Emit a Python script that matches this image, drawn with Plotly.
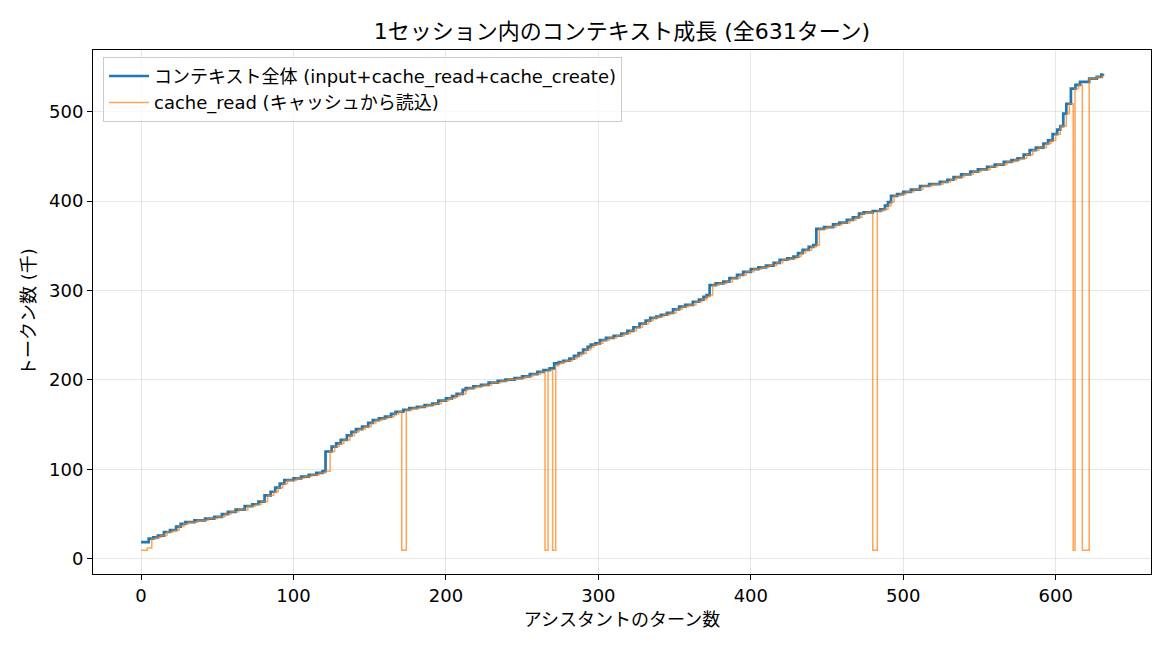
import plotly.graph_objects as go

# ---- data (thousands of tokens) ----
total_turns = [0, 5, 8, 11, 15, 19, 23, 26, 29, 35, 42, 48, 53, 57, 62, 68, 73, 77, 81, 85,
               88, 91, 94, 100, 105, 110, 115, 119, 121, 125, 128, 131, 135, 138, 141, 145, 149, 152, 156, 160,
               164, 167, 172, 176, 181, 186, 191, 195, 200, 204, 207, 211, 213, 218, 223, 228, 234, 239, 245, 250,
               255, 260, 264, 268, 271, 274, 277, 281, 284, 287, 290, 293, 295, 298, 301, 305, 310, 315, 319, 323,
               327, 331, 334, 338, 341, 345, 349, 353, 357, 362, 366, 369, 371, 373, 377, 382, 386, 391, 395, 400,
               405, 410, 415, 419, 424, 428, 431, 434, 438, 441, 443, 448, 454, 458, 463, 467, 471, 474, 480, 485,
               488, 490, 492, 496, 500, 505, 511, 517, 524, 529, 533, 538, 544, 549, 555, 560, 566, 571, 575, 579,
               583, 587, 592, 595, 598, 601, 603, 605, 607, 610, 613, 616, 622, 627, 630, 631]
total_k = [18.7, 22.5, 24, 26, 30, 32, 36, 39, 41, 43, 45, 47, 50, 52.5, 55, 59, 61, 64, 71, 75,
           79.5, 84, 88, 90, 92, 94, 96, 98, 120, 125.5, 129, 133, 138, 142, 145, 148, 152, 155, 157, 159,
           162, 164.5, 166.5, 168.5, 170, 172, 173.5, 177, 179.5, 182, 184.5, 189, 191, 193, 194.5, 197, 199, 200.5, 202, 204,
           206.5, 209, 211, 213, 218.5, 220, 221.5, 224, 227, 230, 234, 237, 239.5, 241, 244.5, 247, 249.5, 252, 255, 259,
           263, 266.5, 269.5, 271, 273, 275, 279, 282, 284, 287.5, 290, 293, 295, 306, 308, 310, 314, 317.5, 321, 324,
           326, 328, 331, 334.5, 336, 338, 342, 345.5, 349, 351, 369, 371, 374, 376, 379, 382, 386, 387.5, 389, 391,
           395, 399, 406, 408, 410.5, 413, 417, 419, 421.5, 424, 427, 430, 433, 435.5, 438.5, 441, 444, 446, 448, 452,
           457, 460, 464.5, 468, 475, 480, 484, 498, 509, 526, 530, 533.5, 537, 539, 541.5, 542.5]

cache_turns = [0, 4, 7, 10, 13, 17, 21, 25, 28, 31, 37, 44, 50, 55, 59, 64, 70, 75, 79, 83,
               87, 90, 93, 96, 102, 107, 112, 117, 121, 124, 127, 130, 133, 137, 140, 143, 147, 151, 154, 158,
               162, 166, 169, 171, 174, 178, 183, 188, 193, 197, 202, 206, 209, 213, 215, 220, 225, 230, 236, 241,
               247, 252, 257, 262, 265, 267, 270, 272, 274, 276, 279, 283, 286, 289, 292, 295, 297, 300, 303, 307,
               312, 317, 321, 325, 329, 333, 336, 340, 343, 347, 351, 355, 359, 364, 368, 371, 373, 375, 379, 384,
               388, 393, 397, 402, 407, 412, 417, 421, 426, 430, 433, 436, 440, 443, 445, 450, 456, 460, 465, 469,
               473, 476, 480, 483, 487, 490, 492, 494, 498, 502, 507, 513, 519, 526, 531, 535, 540, 546, 551, 557,
               562, 568, 573, 577, 581, 585, 589, 594, 597, 600, 603, 607, 609, 611.5, 612.7, 615, 617.5, 622, 627, 631]
cache_k = [9.6, 12, 22.5, 24, 26, 30, 32, 36, 39, 41, 43, 45, 47, 50, 52.5, 55, 59, 61, 64, 71,
           75, 79.5, 84, 88, 90, 92, 94, 96, 98, 120, 125.5, 129, 133, 138, 142, 145, 148, 152, 155, 157,
           159, 162, 164.5, 9.6, 166.5, 168.5, 170, 172, 173.5, 177, 179.5, 182, 184.5, 189, 191, 193, 194.5, 197, 199, 200.5,
           202, 204, 206.5, 209, 9.6, 211, 9.6, 216, 218.5, 220, 221.5, 224, 227, 230, 234, 237, 239.5, 241, 244.5, 247,
           249.5, 252, 255, 259, 263, 266.5, 269.5, 271, 273, 275, 279, 282, 284, 287.5, 290, 293, 295, 306, 308, 310,
           314, 317.5, 321, 324, 326, 328, 331, 334.5, 336, 338, 342, 345.5, 349, 351, 369, 371, 374, 376, 379, 382,
           386, 387.5, 9.6, 389, 391, 395, 399, 406, 408, 410.5, 413, 417, 419, 421.5, 424, 427, 430, 433, 435.5, 438.5,
           441, 444, 446, 448, 452, 457, 460, 464.5, 468, 475, 484, 498, 509, 9.6, 526, 530, 9.6, 537, 539, 541.5]

x_ticks = [0, 100, 200, 300, 400, 500, 600]
y_ticks = [0, 100, 200, 300, 400, 500]

FONT = "DejaVu Sans, Noto Sans CJK JP, sans-serif"
BASE = 18

fig = go.Figure()
fig.add_trace(go.Scatter(
    x=total_turns, y=total_k, mode="lines", line_shape="hv",
    name="コンテキスト全体 (input+cache_read+cache_create)",
    line=dict(color="#1f77b4", width=2.7)))
fig.add_trace(go.Scatter(
    x=cache_turns, y=cache_k, mode="lines", line_shape="hv",
    name="cache_read (キャッシュから読込)", opacity=0.7,
    line=dict(color="#ff7f0e", width=1.5)))

axis_common = dict(
    showline=True, linecolor="black", linewidth=1.1, mirror=True,
    ticks="outside", ticklen=5, tickwidth=1.1, tickcolor="black",
    showgrid=True, gridcolor="rgba(176,176,176,0.3)", gridwidth=1,
    zeroline=False, tickfont=dict(family=FONT, size=BASE, color="black"),
)

fig.update_layout(
    width=1170, height=650,
    margin=dict(l=93, r=19, t=50, b=76),
    paper_bgcolor="white", plot_bgcolor="white",
    font=dict(family=FONT, color="black"),
    title=dict(text="1セッション内のコンテキスト成長 (全631ターン)",
               x=0.5, xref="paper", xanchor="center",
               y=1 - 31 / 650, yref="container", yanchor="middle",
               font=dict(family=FONT, size=22, color="black")),
    xaxis=dict(range=[-31.55, 662.55], tickvals=x_ticks,
               title=dict(text="アシスタントのターン数", font=dict(family=FONT, size=BASE), standoff=8),
               **axis_common),
    yaxis=dict(range=[-17.0, 569.1], tickvals=y_ticks,
               title=dict(text="トークン数 (千)", font=dict(family=FONT, size=BASE), standoff=8),
               **axis_common),
    legend=dict(x=0.0095, y=0.987, xanchor="left", yanchor="top",
                bgcolor="rgba(255,255,255,0.8)", bordercolor="#cccccc", borderwidth=1,
                font=dict(family=FONT, size=BASE, color="black"), tracegroupgap=2,
                itemwidth=40),
    showlegend=True,
)

fig.write_html("out.html")
